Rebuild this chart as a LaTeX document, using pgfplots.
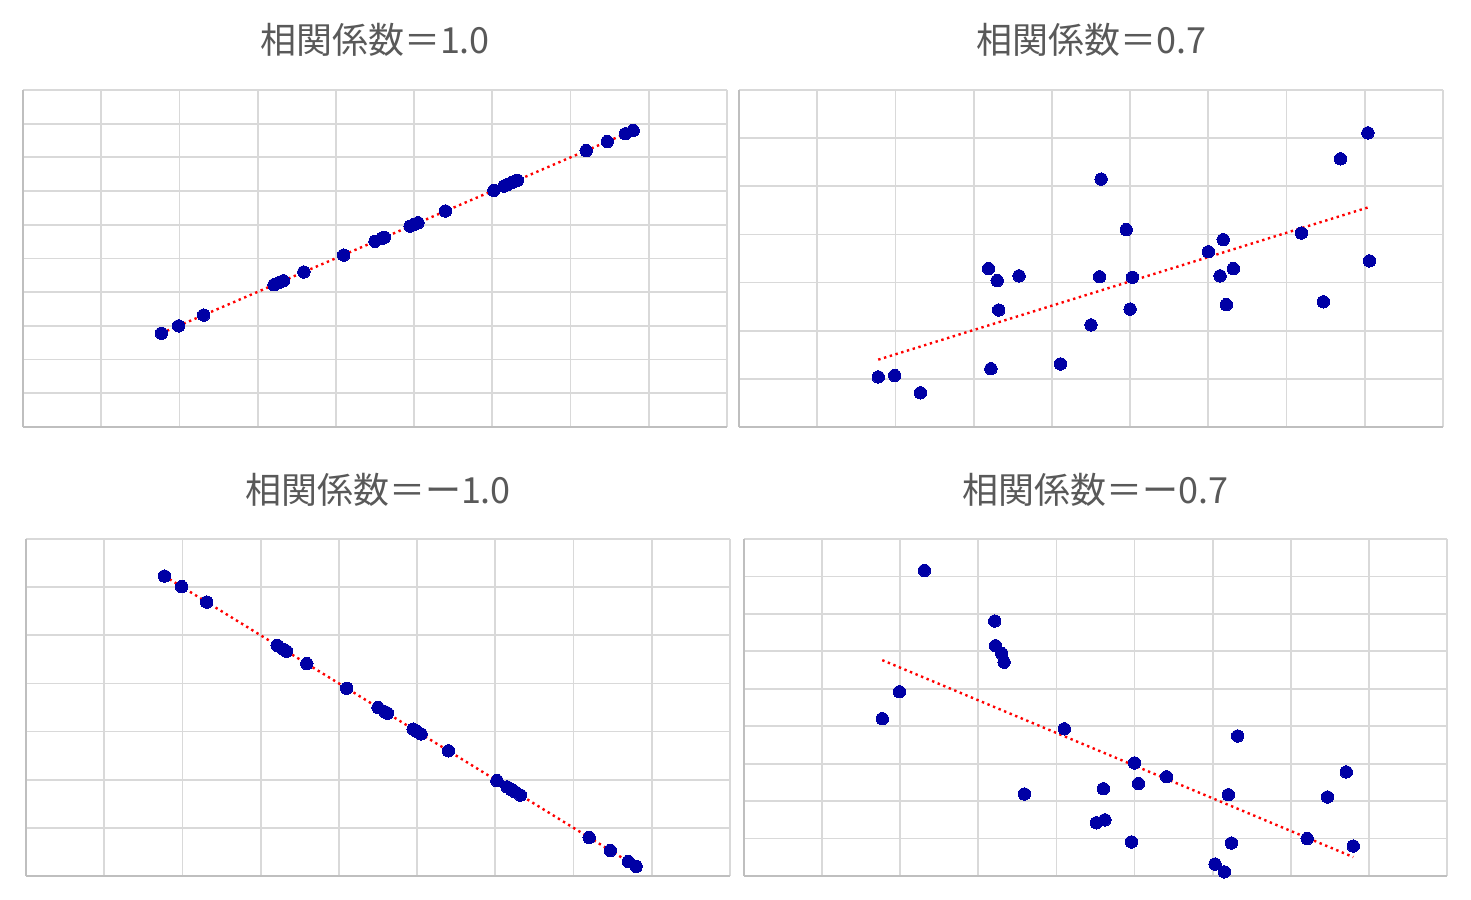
\documentclass[border=0pt]{standalone}
\usepackage{pgfplots}
\usepackage{pgfplotstable}
\pgfplotsset{compat=1.18}
\usepackage{fontspec}
\newfontfamily\jp{Noto Sans CJK JP}

\definecolor{gridgray}{HTML}{D9D9D9}
\definecolor{axisgray}{HTML}{BFBFBF}
\definecolor{titlegray}{HTML}{595959}
\definecolor{dotblue}{RGB}{0,0,165}

% r = 1.0
\pgfplotstableread{
x y
1.77 2.78
1.99 3.00
2.31 3.32
3.21 4.22
3.22 4.23
3.29 4.30
3.33 4.34
3.59 4.60
4.10 5.10
4.50 5.51
4.59 5.60
4.62 5.63
4.95 5.96
5.00 6.01
5.05 6.06
5.40 6.41
6.02 7.02
6.15 7.15
6.20 7.20
6.25 7.25
6.32 7.32
7.20 8.20
7.47 8.47
7.70 8.70
7.80 8.80
}\tablePosOne

% r = 0.7
\pgfplotstableread{
x y
1.78 1.04
1.99 1.07
2.32 0.71
3.19 3.29
3.22 1.21
3.30 3.04
3.32 2.43
3.58 3.14
4.11 1.31
4.50 2.12
4.61 3.12
4.63 5.15
4.95 4.10
5.00 2.45
5.03 3.11
6.00 3.64
6.15 3.14
6.19 3.89
6.23 2.54
6.32 3.29
7.19 4.03
7.47 2.60
7.69 5.57
8.04 6.11
8.06 3.45
}\tablePosSeven

% r = -1.0
\pgfplotstableread{
x y
1.77 6.23
1.99 6.01
2.31 5.69
3.21 4.79
3.22 4.78
3.29 4.71
3.33 4.67
3.59 4.41
4.10 3.90
4.50 3.50
4.59 3.41
4.62 3.38
4.95 3.05
5.00 3.00
5.05 2.95
5.40 2.60
6.02 1.98
6.15 1.85
6.20 1.80
6.25 1.75
6.32 1.68
7.20 0.80
7.47 0.53
7.70 0.30
7.80 0.20
}\tableNegOne

% r = -0.7
\pgfplotstableread{
x y
1.77 4.20
1.99 4.92
2.31 8.16
3.21 6.81
3.22 6.15
3.30 5.94
3.33 5.71
3.59 2.19
4.10 3.93
4.51 1.42
4.60 2.33
4.62 1.50
4.96 0.91
5.00 3.02
5.05 2.47
5.41 2.65
6.03 0.32
6.15 0.11
6.20 2.17
6.24 0.88
6.32 3.74
7.21 1.00
7.47 2.11
7.71 2.78
7.80 0.80
}\tableNegSeven

\pgfplotsset{
  panel/.style={
    scale only axis,
    width=352pt, height=168.5pt,
    anchor=south west,
    xmin=0, xmax=9,
    xtick={0,...,9},
    xticklabels={}, yticklabels={},
    major tick length=0pt,
    tick style={draw=none},
    grid=major,
    major grid style={color=gridgray, line width=0.9pt},
    axis x line*=bottom, axis y line*=left,
    axis line style={color=axisgray, line width=0.8pt, -},
    clip=false,
    title style={at={(0.5,1)}, anchor=base, yshift=12pt,
      font=\jp\fontsize{18}{21}\selectfont, text=titlegray},
  },
  pts/.style={only marks, mark=*, mark size=3.1pt,
    mark options={fill=dotblue, draw=dotblue, line width=0pt}},
  trend/.style={no marks, color=red, line width=1.2pt,
    dash pattern=on 1.2pt off 1.8pt},
}

\begin{document}
\begin{tikzpicture}
\begin{axis}[panel, at={(11.5pt,236pt)}, ymin=0, ymax=10, ytick={0,...,10},
  title={相関係数＝1.0}]
  \addplot[pts] table[x=x, y=y] {\tablePosOne};
  \addplot[trend] table[x=x, y={create col/linear regression={y=y}}] {\tablePosOne};
\end{axis}

\begin{axis}[panel, at={(369.5pt,236pt)}, ymin=0, ymax=7, ytick={0,...,7},
  title={相関係数＝0.7}]
  \addplot[pts] table[x=x, y=y] {\tablePosSeven};
  \addplot[trend] table[x=x, y={create col/linear regression={y=y}}] {\tablePosSeven};
\end{axis}

\begin{axis}[panel, at={(13pt,11.5pt)}, ymin=0, ymax=7, ytick={0,...,7},
  title={相関係数＝ー1.0}]
  \addplot[pts] table[x=x, y=y] {\tableNegOne};
  \addplot[trend] table[x=x, y={create col/linear regression={y=y}}] {\tableNegOne};
\end{axis}

\begin{axis}[panel, at={(372pt,11.5pt)}, width=351.5pt, ymin=0, ymax=9, ytick={0,...,9},
  title={相関係数＝ー0.7}]
  \addplot[pts] table[x=x, y=y] {\tableNegSeven};
  \addplot[trend] table[x=x, y={create col/linear regression={y=y}}] {\tableNegSeven};
\end{axis}

\pgfresetboundingbox
\useasboundingbox (0,0) rectangle (735.5pt,449.5pt);
\end{tikzpicture}
\end{document}
